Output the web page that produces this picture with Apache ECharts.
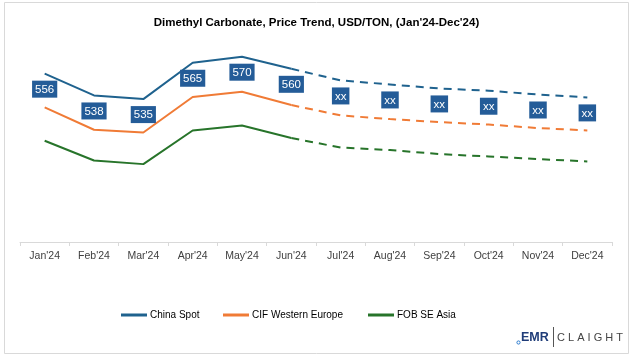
<!DOCTYPE html>
<html><head><meta charset="utf-8">
<script src="https://cdn.jsdelivr.net/npm/echarts@6/dist/echarts.min.js"></script>
<style>html,body{margin:0;padding:0;background:#fff}#c{width:633px;height:359px}</style>
</head><body><div id="c"></div>
<script>
const categories = ["Jan'24","Feb'24","Mar'24","Apr'24","May'24","Jun'24","Jul'24","Aug'24","Sep'24","Oct'24","Nov'24","Dec'24"];
const chinaSpot = [556, 538, 535, 565, 570, 560, 550.4, 547.1, 543.8, 541.9, 538.8, 536.4];
const cifWesternEurope = [528.1, 509.7, 507.4, 536.7, 541.1, 530.1, 521.5, 518.5, 516.0, 514.0, 511.1, 509.1];
const fobSEAsia = [500.6, 484.3, 481.3, 509.1, 513.2, 502.8, 495.0, 492.9, 489.6, 487.6, 485.5, 483.5];
const chinaLabels = ['556','538','535','565','570','560','xx','xx','xx','xx','xx','xx'];
const seriesNames = ['China Spot','CIF Western Europe','FOB SE Asia'];
const actualCount = 6;

const FONT = '"Liberation Sans",Arial,sans-serif';
const colors = ['#1F628E','#F07B36','#27742A'];
const labelBg = '#245C98';

function solidPart(vals, withLabels){
  return vals.map((v,i)=> i < actualCount ? {value:v, label:{show:!!withLabels}} : {value:null, label:{show:false}});
}
function dashedPart(vals, withLabels){
  return vals.map((v,i)=> i >= actualCount-1 ? {value:v, label:{show:!!withLabels && i >= actualCount}} : {value:null, label:{show:false}});
}
const labelCfg = {
  show:true, position:'bottom', distance:7,
  formatter: p => chinaLabels[p.dataIndex],
  color:'#fff', backgroundColor:labelBg, padding:[3,3,2,3],
  fontFamily:FONT, fontSize:11.5
};
const allVals = [chinaSpot, cifWesternEurope, fobSEAsia];
const series = [];
allVals.forEach((vals, k)=>{
  series.push({
    name: seriesNames[k], type:'line', data: solidPart(vals, k===0),
    symbol:'circle', symbolSize:0, showSymbol:true, smooth:false, connectNulls:false,
    lineStyle:{color:colors[k], width:2}, itemStyle:{color:colors[k]},
    label: k===0 ? labelCfg : {show:false}, z: 3 + (k===0?2:0)
  });
  series.push({
    name: seriesNames[k]+' forecast', type:'line', data: dashedPart(vals, k===0),
    symbol:'circle', symbolSize:0, showSymbol:true, smooth:false,
    lineStyle:{color:colors[k], width:2, type:[8,6]}, itemStyle:{color:colors[k]},
    label: k===0 ? labelCfg : {show:false}, z: 3 + (k===0?2:0)
  });
});

const chart = echarts.init(document.getElementById('c'), null, {renderer:'canvas'});
const legendPos = [121, 223, 368];
chart.setOption({
  animation:false,
  backgroundColor:'#fff',
  title:{
    text:"Dimethyl Carbonate, Price Trend, USD/TON, (Jan'24-Dec'24)",
    left:'center', top:12,
    textStyle:{fontFamily:FONT, fontWeight:'bold', fontSize:11.5, color:'#000'}
  },
  legend: seriesNames.map((n,k)=>({
    data:[n], left:legendPos[k], top:310, padding:0, itemWidth:26, itemHeight:3, itemGap:0,
    icon:'rect', textStyle:{fontFamily:FONT, fontSize:10, color:'#000', padding:[0,0,0,-2]}
  })),
  grid:{left:20, right:21, top:24, bottom:117, containLabel:false},
  xAxis:{
    type:'category', data:categories, boundaryGap:true,
    axisLine:{lineStyle:{color:'#d9d9d9', width:1}},
    axisTick:{show:true, length:4, lineStyle:{color:'#d9d9d9'}},
    axisLabel:{fontFamily:FONT, fontSize:10.5, color:'#404040', margin:9}
  },
  yAxis:{type:'value', min:417, max:597, show:false, splitLine:{show:false}},
  series: series,
  graphic:[
    {type:'rect', shape:{x:4.5, y:2.5, width:624, height:351}, style:{fill:'none', stroke:'#d9d9d9', lineWidth:1}, silent:true, z:-1},
    {type:'circle', shape:{cx:518.5, cy:342.5, r:1.6}, style:{fill:'none', stroke:'#2a7bd0', lineWidth:1}},
    {type:'text', x:521, y:331, style:{text:'EMR', fontFamily:FONT, fontWeight:'bold', fontSize:12.5, fill:'#1f3c78'}},
    {type:'line', shape:{x1:553.5, y1:327, x2:553.5, y2:347}, style:{stroke:'#555', lineWidth:1}},
    {type:'text', x:557, y:332, style:{text:'C L A I G H T', fontFamily:FONT, fontSize:11, fill:'#444'}}
  ]
});
</script></body></html>
